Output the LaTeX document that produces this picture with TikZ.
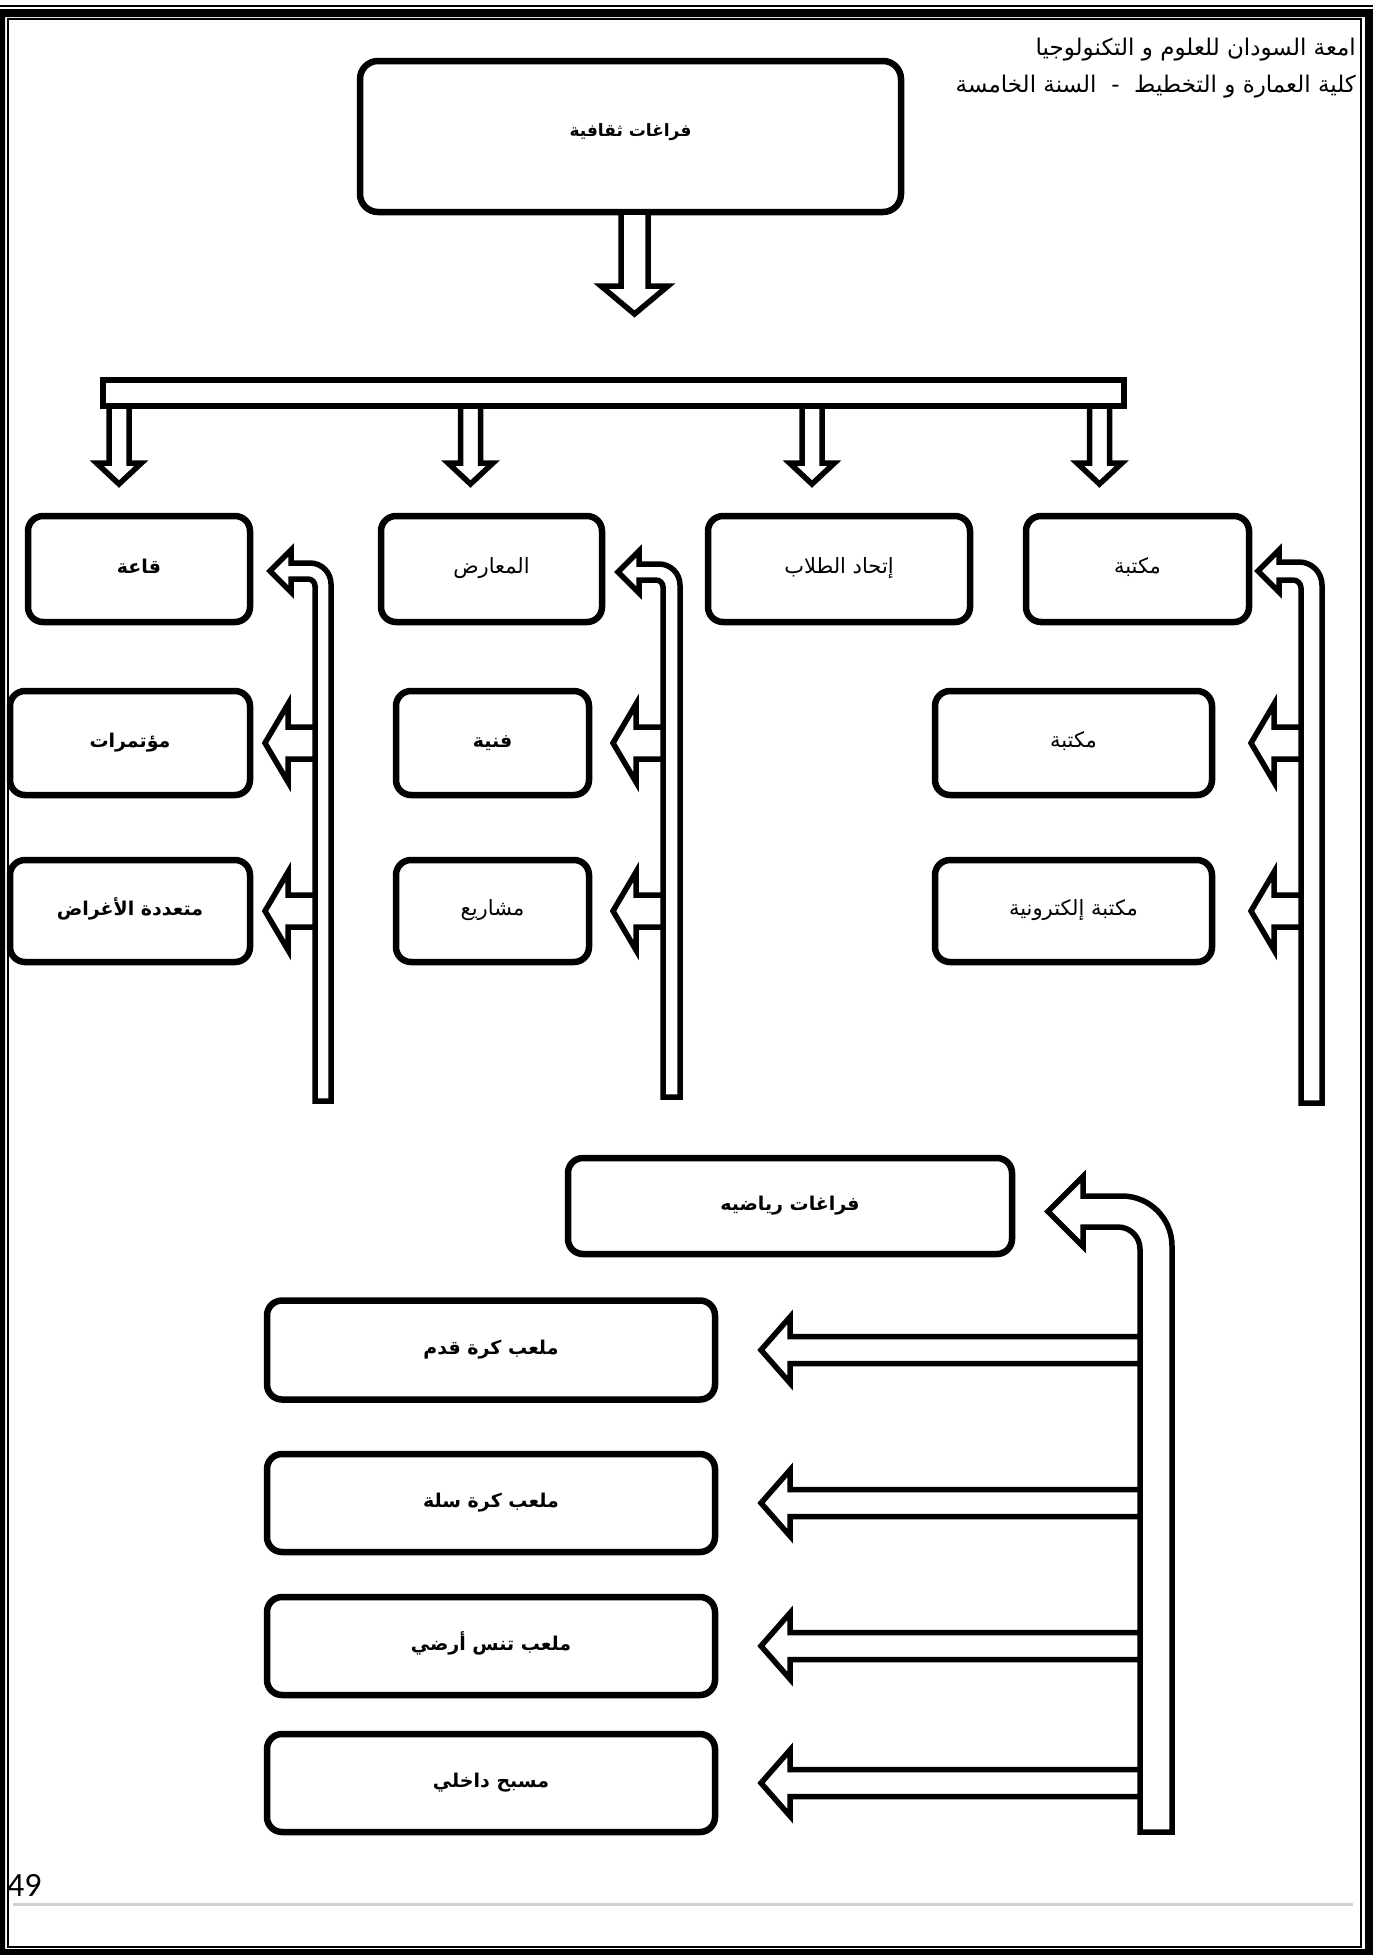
\documentclass[tikz,border=0pt]{standalone}
\usepackage{fontspec}
\usetikzlibrary{calc}
\TeXXeTstate=1
\newfontfamily\arabicfont[Script=Arabic]{DejaVu Sans}
\newfontfamily\numfont{Carlito}

% right-to-left label, regular and bold
\newcommand\artext[1]{{\fontsize{21}{24}\selectfont\beginR#1\endR}}
\newcommand\artextb[1]{{\bfseries\beginR#1\endR}}

\tikzset{
  box/.style={draw, line width=6.5pt, rounded corners=15pt, fill=white,
    outer sep=0pt, inner sep=0pt, text height=14pt, text depth=5pt,
    font=\arabicfont\fontsize{19}{22}\selectfont},
  hollow/.style={draw, line width=5.5pt, fill=white, line join=miter, miter limit=20},
  header/.style={anchor=east, inner sep=0pt, font=\arabicfont\fontsize{23}{26}\selectfont},
}

% hollow arrow pointing down: #1 start (tail centre), #2 length, #3 head length,
% #4 half shaft width, #5 half head width
\newcommand\droparrow[5]{%
  \draw[hollow] ($(#1)+(-#4,0)$) -- ++(0,{#2-#3}) -- ++({#4-#5},0) -- ++(#5,#3)
    -- ++(#5,-#3) -- ++({#4-#5},0) -- ++(0,{#3-#2}) -- cycle;
}

% hollow arrow from a spine leftwards to a box: #1 box, #2 spine coordinate,
% #3 tip distance from spine, #4 head length, #5 half shaft, #6 half head
\newcommand\sidearrow[6]{%
  \coordinate (tip) at ($(#2 |- #1.center)+(-#3,0)$);
  \draw[hollow] (tip) -- ++(#4,-#6) -- ++(0,{#6-#5}) -- ($(#2 |- tip)+(0,-#5)$)
    -- ($(#2 |- tip)+(0,#5)$) -- ($(tip)+(#4,#5)$) -- ++(0,{#6-#5}) -- cycle;
}

% vertical hollow spine bending into a left-pointing head at its top:
% #1 inner x, #2 outer x, #3 bottom y, #4 band centre y, #5 half band width,
% #6 outer radius, #7 inner radius, #8 head base x, #9 head size
\newcommand\spinearrow[9]{%
  \draw[hollow]
    (#2,#3) -- (#2,{#4-#5+#6})
    .. controls (#2,{#4-#5+0.4477*#6}) and ({#2-0.4477*#6},{#4-#5}) .. ({#2-#6},{#4-#5})
    -- (#8,{#4-#5}) -- (#8,{#4-#9}) -- ({#8-#9},#4) -- (#8,{#4+#9}) -- (#8,{#4+#5})
    -- ({#1-#7},{#4+#5})
    .. controls ({#1-0.4477*#7},{#4+#5}) and (#1,{#4+#5+0.4477*#7}) .. (#1,{#4+#5+#7})
    -- (#1,#3) -- cycle;
}

\begin{document}
\begin{tikzpicture}[x=1pt,y=-1pt]
\useasboundingbox (0,0) rectangle (1373,1955);

% page frame: thick outer band, thin inner rule, thin rule along the top
\fill[black, even odd rule] (0,9) rectangle (1373,1955) (5,17) rectangle (1365,1949);
\draw[line width=2pt] (7.5,19) rectangle (1361,1946.5);
\draw[line width=2pt] (0,6) -- (1373,6);

% header lines
\node[header] (hdrA) at (1356,50) {\beginR امعة السودان للعلوم و التكنولوجيا\endR};
\node[header] (hdrB) at (1356,87) {\beginR كلية العمارة و التخطيط~~-~~السنة الخامسة\endR};

% cultural spaces
\node[box, rounded corners=18pt, minimum width=541pt, minimum height=151pt,
      text height=14pt, text depth=14pt, font=\arabicfont\fontsize{17}{20}\selectfont]
      (top) at (630.5,136.5) {\artextb{فراغات ثقافية}};
\node[draw, line width=6.5pt, fill=white, outer sep=0pt, inner sep=0pt,
      minimum width=1021pt, minimum height=26pt] (bar) at (613.5,393) {};

% first row
\node[box, minimum width=222pt, minimum height=106pt] (qaa) at (139,569) {\artextb{قاعة}};
\node[box, minimum width=221pt, minimum height=106pt] (maarid) at (491.5,569) {\artext{المعارض}};
\node[box, minimum width=262pt, minimum height=106pt] (ittihad) at (839,569) {\artext{إتحاد الطلاب}};
\node[box, minimum width=223pt, minimum height=106pt] (libA) at (1137.5,569) {\artext{مكتبة}};
% second row
\node[box, minimum width=240pt, minimum height=104pt] (conf) at (130,743) {\artextb{مؤتمرات}};
\node[box, minimum width=193pt, minimum height=104pt] (art) at (492.5,743) {\artextb{فنية}};
\node[box, minimum width=277pt, minimum height=104pt] (libB) at (1073.5,743) {\artext{مكتبة}};
% third row
\node[box, minimum width=240pt, minimum height=102pt] (multi) at (130,911) {\artextb{متعددة الأغراض}};
\node[box, minimum width=193pt, minimum height=102pt] (proj) at (492.5,911) {\artext{مشاريع}};
\node[box, minimum width=277pt, minimum height=102pt] (elib) at (1073.5,911) {\artext{مكتبة إلكترونية}};

% sports spaces
\node[box, minimum width=444pt, minimum height=96pt] (sport) at (790,1206) {\artextb{فراغات رياضيه}};
\node[box, minimum width=448pt, minimum height=99pt] (foot) at (491,1350) {\artextb{ملعب كرة قدم}};
\node[box, minimum width=448pt, minimum height=98pt] (basket) at (491,1503) {\artextb{ملعب كرة سلة}};
\node[box, minimum width=448pt, minimum height=98pt] (tennis) at (491,1646) {\artextb{ملعب تنس أرضي}};
\node[box, minimum width=448pt, minimum height=98pt] (pool) at (491,1783) {\artextb{مسبح داخلي}};

% arrow from the main box down to the bar
\coordinate (d0) at ($(top.south)+(4,0)$);
\droparrow{d0}{102}{28}{13.5}{33.5}

% arrows from the bar down to the first row
\coordinate (d1) at ($(bar.south -| qaa.north)+(-20,0)$);
\coordinate (d2) at ($(bar.south -| maarid.north)+(-21,0)$);
\coordinate (d3) at ($(bar.south -| ittihad.north)+(-27,0)$);
\coordinate (d4) at ($(bar.south -| libA.north)+(-38,0)$);
\droparrow{d1}{78}{21}{10}{22.5}
\droparrow{d2}{78}{21}{10}{22.5}
\droparrow{d3}{78}{21}{10}{22.5}
\droparrow{d4}{78}{21}{10}{22.5}

% spines
\coordinate (spA) at (315,0);
\coordinate (spB) at (663,0);
\coordinate (spC) at (1301,0);
\coordinate (spD) at (1140,0);
\spinearrow{315}{331}{1101}{571}{8}{21}{7}{291}{21}
\spinearrow{663}{680}{1097}{572}{8}{21}{7}{639}{21}
\spinearrow{1301}{1322}{1103}{571}{9}{23}{8}{1279}{21}
\spinearrow{1140}{1172}{1832}{1211.5}{15.5}{50}{22}{1083}{35}

% branch arrows
\sidearrow{conf}{spA}{50}{23}{16}{39}
\sidearrow{multi}{spA}{50}{23}{16}{39}
\sidearrow{art}{spB}{50}{23}{16}{39}
\sidearrow{proj}{spB}{50}{23}{16}{39}
\sidearrow{libB}{spC}{50}{23}{16}{39}
\sidearrow{elib}{spC}{50}{23}{16}{39}
\sidearrow{foot}{spD}{379}{29}{13.5}{33}
\sidearrow{basket}{spD}{379}{29}{13.5}{33}
\sidearrow{tennis}{spD}{379}{29}{13.5}{33}
\sidearrow{pool}{spD}{379}{29}{13.5}{33}

% footer
\node[anchor=west, inner sep=0pt, font=\numfont\fontsize{34}{36}\selectfont] (pnum) at (7,1885) {49};
\draw[black!18, line width=3pt] (13,1904.5) -- (1353,1904.5);
\end{tikzpicture}
\end{document}
